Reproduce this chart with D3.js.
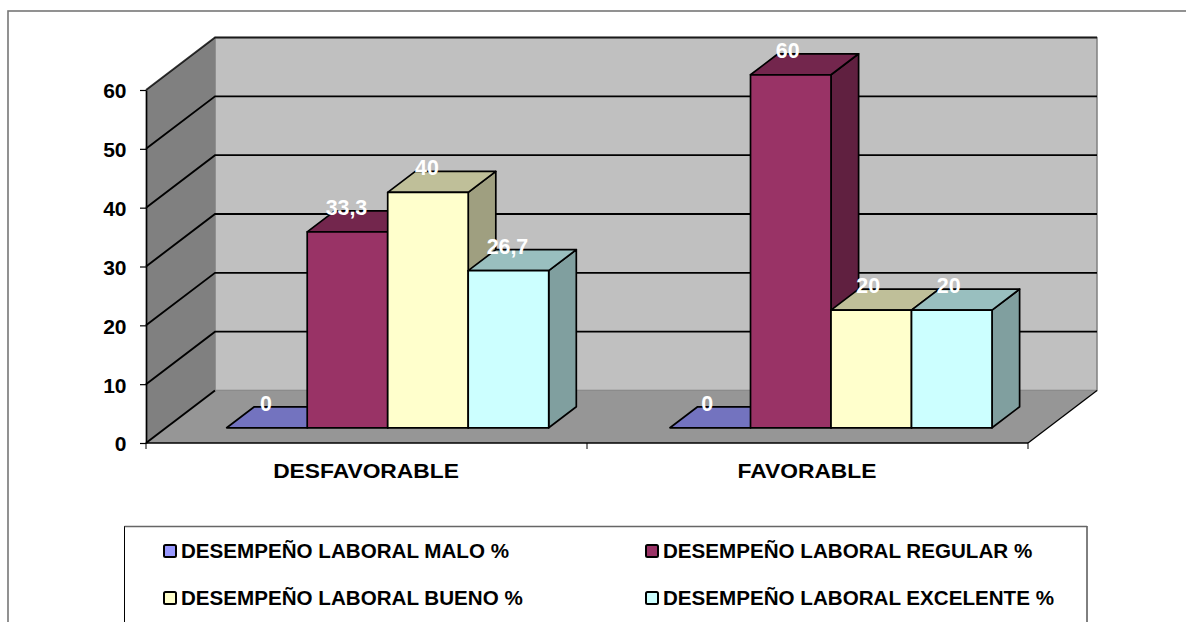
<!DOCTYPE html>
<html>
<head>
<meta charset="utf-8">
<script src="https://cdn.jsdelivr.net/npm/d3@7/dist/d3.min.js"></script>
<style>
  html, body { margin: 0; padding: 0; background: #fff; overflow: hidden; }
  svg { display: block; }
  text { font-family: "Liberation Sans", Arial, sans-serif; font-weight: bold; }
</style>
</head>
<body>
<svg id="chart" width="1186" height="622"></svg>
<script>
const categories = ["DESFAVORABLE", "FAVORABLE"];
const seriesNames = [
  "DESEMPEÑO LABORAL MALO %",
  "DESEMPEÑO LABORAL REGULAR %",
  "DESEMPEÑO LABORAL BUENO %",
  "DESEMPEÑO LABORAL EXCELENTE %"
];
const malo = [0, 0];
const regular = [33.3, 60];
const bueno = [40, 20];
const excelente = [26.7, 20];
const seriesValues = [malo, regular, bueno, excelente];
const seriesColors = ["#9999ff", "#993366", "#ffffcc", "#ccffff"];
const yTicks = [0, 10, 20, 30, 40, 50, 60];

const svg = d3.select("#chart");

// Scales: category and value on the front plane, depth as a shear towards the back wall
const x = d3.scaleBand().domain(categories).range([146, 1028]);
const y = d3.scaleLinear().domain([0, 60]).range([443, 90]);
const barGroup = d3.scaleBand().domain(categories).range([146, 1032.6]);
const inner = d3.scaleBand().domain(d3.range(seriesNames.length)).range([60.7, 382.7]);
const depthDX = 69, depthDY = -52.5;
const barDepth = [0.29, 0.69];

const proj = (px, val, z) => [px + z * depthDX, y(val) + z * depthDY];
const poly = pts => "M" + pts.map(p => p.join(",")).join("L") + "Z";
const shade = (c, k) => {
  const { r, g, b } = d3.rgb(c);
  return d3.rgb(r * k, g * k, b * k).formatHex();
};

// Outer chart frame, running off the right and bottom of the page
svg.append("rect").attr("x", 8).attr("y", 11).attr("width", 1300).attr("height", 700)
  .attr("fill", "#fff").attr("stroke", "#777").attr("stroke-width", 1.6);

const x0 = x.range()[0], x1 = x.range()[1], v0 = 0, vMax = 60;
const walls = svg.append("g").attr("stroke-linejoin", "round");

// Back wall, side wall and floor
walls.append("path")
  .attr("d", poly([proj(x0, v0, 1), proj(x1, v0, 1), proj(x1, vMax, 1), proj(x0, vMax, 1)]))
  .attr("fill", "#c0c0c0").attr("stroke", "#808080").attr("stroke-width", 1.5);
walls.append("path")
  .attr("d", poly([proj(x0, v0, 0), proj(x0, v0, 1), proj(x0, vMax, 1), proj(x0, vMax, 0)]))
  .attr("fill", "#808080").attr("stroke", "none");
walls.append("path")
  .attr("d", poly([proj(x0, v0, 0), proj(x1, v0, 0), proj(x1, v0, 1), proj(x0, v0, 1)]))
  .attr("fill", "#969696").attr("stroke", "none");

// Gridlines wrap from the front of the side wall across the back wall
const grid = svg.append("g").attr("fill", "none").attr("stroke", "#000").attr("stroke-width", 1.9);
yTicks.forEach(t => {
  const a = proj(x0, t, 0), b = proj(x0, t, 1), c = proj(x1, t, 1);
  grid.append("path").attr("d", t === 0 ? `M${a}L${b}` : `M${a}L${b}L${c}`)
    .attr("stroke-opacity", t === vMax ? 0.8 : 1);
});
grid.append("path").attr("stroke-width", 1.3)
  .attr("d", `M${proj(x1, v0, 0)}L${proj(x1, v0, 1)}`);

// Value axis with outward ticks
svg.append("g").attr("transform", `translate(${x0},0)`)
  .call(d3.axisLeft(y).tickValues(yTicks).tickSize(6).tickSizeOuter(0).tickPadding(13.5))
  .call(g => g.select(".domain").attr("stroke", "#000").attr("stroke-width", 1.7))
  .call(g => g.selectAll("line").attr("stroke", "#000").attr("stroke-width", 1.2))
  .call(g => g.selectAll("text").attr("font-size", 21).attr("fill", "#000").attr("dy", "0.38em"));

// Category axis: front floor edge, ticks at the band boundaries
const axisY = y(0);
const bottom = svg.append("g");
bottom.append("line").attr("x1", x0).attr("x2", x1).attr("y1", axisY).attr("y2", axisY)
  .attr("stroke", "#000").attr("stroke-width", 1.7);
[x0, x0 + x.bandwidth(), x1].forEach(p => {
  bottom.append("line").attr("x1", p).attr("x2", p).attr("y1", axisY).attr("y2", axisY + 6)
    .attr("stroke", "#000").attr("stroke-width", 1);
});
// Category names are set slightly wider than their height
bottom.selectAll("text").data(categories).join("text")
  .attr("transform", d => `translate(${x(d) + x.bandwidth() / 2 - 0.5},478) scale(1.107,1)`)
  .attr("text-anchor", "middle").attr("font-size", 20.6).attr("fill", "#000")
  .text(d => d);

// Bars: zero-height bars still show their top face
const bars = svg.append("g").attr("stroke", "#000").attr("stroke-width", 1.7).attr("stroke-linejoin", "round");
categories.forEach((cat, ci) => {
  seriesNames.forEach((_, si) => {
    const v = seriesValues[si][ci];
    const l = barGroup(cat) + inner(si), r = l + inner.bandwidth();
    const [z0, z1] = barDepth;
    const col = seriesColors[si];
    if (v > 0) {
      bars.append("path").attr("fill", shade(col, 0.625))
        .attr("d", poly([proj(r, 0, z0), proj(r, 0, z1), proj(r, v, z1), proj(r, v, z0)]));
    }
    bars.append("path").attr("fill", shade(col, 0.75))
      .attr("d", poly([proj(l, v, z0), proj(r, v, z0), proj(r, v, z1), proj(l, v, z1)]));
    if (v > 0) {
      bars.append("path").attr("fill", col)
        .attr("d", poly([proj(l, 0, z0), proj(r, 0, z0), proj(r, v, z0), proj(l, v, z0)]));
    }
  });
});

// Value labels sit over the bar tops
const fmt = v => String(v).replace(".", ",");
const labelNudge = [-1, -3];
const labels = svg.append("g").attr("fill", "#fff").attr("font-size", 21.4).attr("text-anchor", "middle");
categories.forEach((cat, ci) => {
  seriesNames.forEach((_, si) => {
    const v = seriesValues[si][ci];
    const p = proj(barGroup(cat) + inner(si) + inner.bandwidth() / 2, v, barDepth[0]);
    labels.append("text").attr("x", p[0] + labelNudge[ci]).attr("y", p[1] - 17).text(fmt(v));
  });
});

// Legend box, open at the bottom of the page
const legendX = 124.5, legendW = 962.5, legendY = 526.5;
svg.append("rect").attr("x", legendX).attr("y", legendY).attr("width", legendW).attr("height", 200)
  .attr("fill", "#fff").attr("stroke", "#000").attr("stroke-width", 1);
svg.append("line").attr("x1", legendX).attr("x2", legendX + legendW).attr("y1", legendY).attr("y2", legendY)
  .attr("stroke", "#666").attr("stroke-width", 1.5);
const legendCols = [164, 646], legendRows = [551, 598];
const legend = svg.append("g");
seriesNames.forEach((name, i) => {
  const lx = legendCols[i % 2], ly = legendRows[Math.floor(i / 2)];
  legend.append("rect").attr("x", lx).attr("y", ly - 6).attr("width", 12).attr("height", 12)
    .attr("rx", 1.5).attr("fill", seriesColors[i]).attr("stroke", "#000").attr("stroke-width", 2);
  legend.append("text").attr("x", lx + 17).attr("y", ly + 6.8)
    .attr("font-size", 20.6).attr("fill", "#000").text(name);
});
</script>
</body>
</html>
